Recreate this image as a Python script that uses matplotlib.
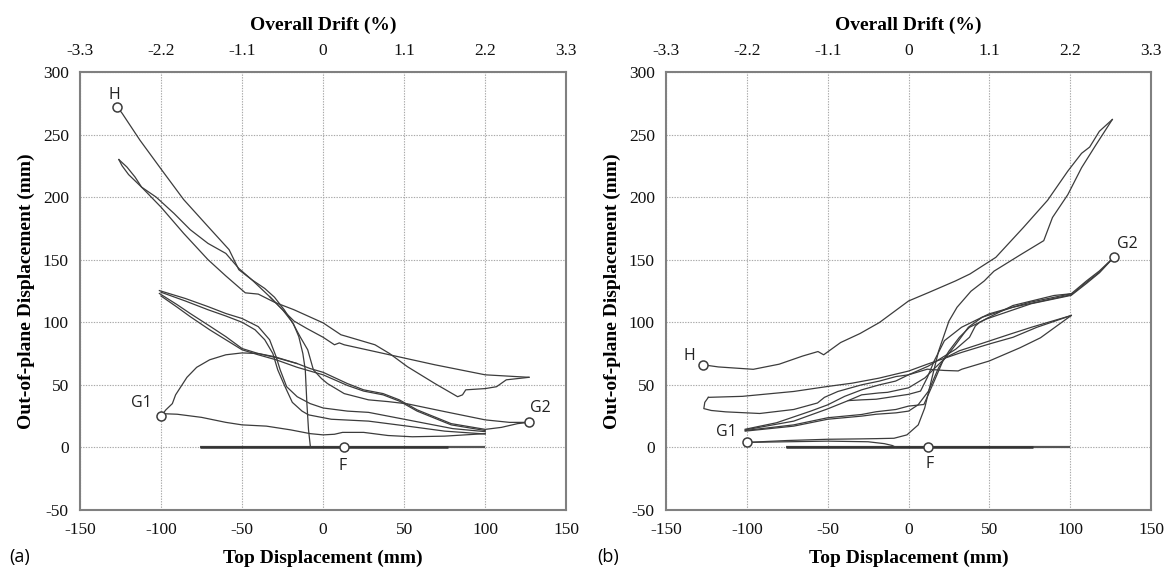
import matplotlib
matplotlib.use("Agg")
import matplotlib.pyplot as plt

# ---------------- axis data ----------------
disp_ticks = [-150, -100, -50, 0, 50, 100, 150]
disp_labels = ["-150", "-100", "-50", "0", "50", "100", "150"]
drift_labels = ["-3.3", "-2.2", "-1.1", "0", "1.1", "2.2", "3.3"]
oop_ticks = [-50, 0, 50, 100, 150, 200, 250, 300]
oop_labels = ["-50", "0", "50", "100", "150", "200", "250", "300"]

# ---------------- panel (a) strands: (top displacement mm, out-of-plane mm) ----------------
a_base_long = [(-76, 0), (100, 0)]
a_base_short = [(-76, 0), (77, 0)]
a_H = [(-127, 272), (-124, 267), (-113, 245.5), (-99.5, 221.6), (-86, 198), (-71, 176.5),
       (-58, 158), (-52, 142), (-44, 134), (-33, 120.5), (-25, 110), (-18.4, 99), (-15, 88.5),
       (-12.5, 75), (-11, 62), (-10, 35), (-9, 14), (-7.8, 0)]
a_loop_upper = [(-126, 230), (-121, 224), (-116, 216), (-112, 208), (-103, 200), (-92, 187),
                (-82, 174), (-71, 163), (-60, 155), (-52, 143), (-44, 134), (-36, 127),
                (-30, 120), (-24, 110), (-19, 100), (-14, 88), (-9.5, 78), (-6, 62), (-1, 55),
                (2.7, 51), (13, 43), (28, 38), (40, 36.6), (52, 34.8), (75, 28.6), (100, 22),
                (115, 20), (127, 20)]
a_loop_lower = [(-126, 230), (-124, 225), (-120, 218), (-112, 208), (-100, 192), (-86, 171),
                (-71, 150), (-60, 137), (-52, 128), (-48, 123.5), (-40, 122.5), (-30, 116),
                (-18, 110), (0, 99.5), (11, 90), (15, 88.5), (32, 82), (41, 75), (52, 64.5),
                (69, 51), (83, 40.5), (86, 42), (88, 46), (100, 47), (107, 48.5), (113, 54),
                (127, 56)]
a_return = [(127, 56), (100, 58), (69, 66), (41, 74), (20, 80), (13, 82), (10, 83.5), (7, 82),
            (0, 88), (-10, 95), (-18, 101), (-25, 110), (-33, 120.5)]
a_bundle_1 = [(-101, 125.3), (-85, 119), (-71, 112.5), (-60, 107), (-50, 103), (-40, 96.5),
              (-33, 86), (-29, 72.5), (-26.5, 62), (-22.5, 48.5), (-16, 40.5), (-8, 35),
              (0, 31.5), (15, 29), (28, 28), (52, 22), (80, 15), (100, 12.6)]
a_bundle_2 = [(-100, 124), (-85, 117), (-71, 110), (-60, 105), (-50, 100), (-42, 94), (-36, 86),
              (-31, 75), (-28, 62), (-24, 50), (-19, 36), (-13, 29), (-9, 26), (5, 22.5),
              (28, 21), (52, 17), (75, 13), (100, 10.7)]
a_bundle_3 = [(-101, 123), (-90, 114), (-82, 107), (-70, 97), (-60, 88.5), (-50, 79), (-40, 75),
              (-29, 71.7), (-16, 67), (-8, 63), (0, 60), (15, 51), (25, 46), (37, 43), (47, 38),
              (58, 30), (79, 19), (100, 14.4), (110, 16), (120, 19), (127, 20)]
a_bundle_4 = [(-100, 121), (-90, 112), (-82, 104.5), (-70, 94), (-60, 86), (-50, 78), (-40, 74),
              (-29, 70), (-16, 64), (0, 58), (15, 49.5), (25, 45), (37, 42), (47, 37), (58, 29),
              (79, 18), (100, 13.5)]
a_hump = [(-100, 25), (-97, 30), (-93, 35), (-91, 42), (-88, 48), (-84, 56), (-78, 64), (-70, 70),
          (-60, 74), (-50, 75.5), (-40, 75), (-30, 72.5), (-16, 67)]
a_G1_low = [(-100, 27), (-90, 26.5), (-75, 24), (-60, 20), (-50, 18), (-35, 17), (-20, 14),
            (-8, 11), (0, 10), (7, 10.5), (12, 12), (25, 12), (40, 9.5), (55, 8.5), (75, 9),
            (100, 11)]
a_strands = [a_H, a_loop_upper, a_loop_lower, a_return, a_bundle_1, a_bundle_2, a_bundle_3,
             a_bundle_4, a_hump, a_G1_low]
a_point_names = ["H", "G1", "G2", "F"]
a_point_x = [-127, -100, 127, 13]
a_point_y = [272, 25, 20, 0]

# ---------------- panel (b) strands ----------------
b_base_long = [(-76, 0), (100, 0)]
b_base_short = [(-76, 0), (77, 0)]
b_G1_a = [(-7.8, 0), (-10, 1.5), (-15, 3), (-25, 4.5), (-50, 5), (-75, 4.5), (-100, 4)]
b_G1_b = [(-100, 4), (-75, 5.5), (-50, 6.5), (-30, 6.8), (-20, 7), (-9, 7.3), (-1, 10), (6, 18),
          (10, 31.5), (14, 53), (18.6, 77), (25, 101), (30, 112), (38.6, 124.8), (46.8, 133),
          (52.8, 140.8), (69.3, 154), (83.6, 165.2), (89, 183.7), (98.5, 202), (107, 223.5),
          (116, 242), (126, 262)]
b_H = [(-127, 66), (-117.6, 64.3), (-96, 62.4), (-80, 66.5), (-65.5, 73), (-56, 76.6),
       (-52.5, 74), (-42, 83.8), (-30, 91), (-18, 99.8), (0, 117), (12.5, 123.8), (29, 133),
       (38, 138.6), (54, 151.9), (71, 175.7), (86, 197.5), (98.5, 220.8), (107, 235),
       (109.5, 237.5), (112, 240), (118, 252.6), (126, 262)]
b_loop_upper = [(-123.8, 40), (-102.7, 40.8), (-71, 44.7), (-50, 48.7), (-35, 51.3),
                (-18.4, 55.3), (0, 61), (11.6, 66.5), (32.8, 75.9), (49.8, 82.6), (64.6, 88),
                (79.4, 96), (100.6, 105.4)]
b_loop_lower = [(-123.8, 40), (-126, 36), (-126.6, 31), (-122, 29.5), (-113, 28.4), (-92, 27.1),
                (-71, 30.3), (-56.3, 35.5), (-52, 40), (-43.7, 44.7), (-29, 50), (-18, 53),
                (-7.8, 56.6), (0, 58), (11.6, 62.5), (22, 61.5), (30.7, 61.1), (33, 62.5),
                (49.8, 69), (68.9, 79.6), (81.6, 87.6), (100.6, 105.4)]
b_bundle_1 = [(-101, 14.5), (-81.6, 19.7), (-60.5, 29), (-50, 34), (-39.5, 40.8), (-29, 46),
              (-18, 50), (-8, 53), (0, 58), (12.3, 65), (20.8, 71.8), (29.2, 78.5), (37.7, 88),
              (41.3, 97), (44, 100), (49.8, 104), (64.6, 113.4), (90, 121.4), (100.6, 122.8),
              (110, 133), (118, 141), (127, 152)]
b_bundle_2 = [(-101, 14), (-71, 21), (-50, 30.8), (-37.3, 37.4), (-29, 42), (-18.4, 43.5),
              (-13, 44), (0, 47.6), (10.2, 55.6), (16.5, 63.7), (23, 71.8), (31.4, 77.2),
              (44, 82.5), (63, 90.6), (76, 96), (100.6, 105.4)]
b_bundle_3 = [(-101, 13.5), (-71, 18), (-50, 23.7), (-29, 26.3), (-20, 28.5), (-7.8, 30.3),
              (0, 33), (9.5, 34.3), (15.9, 53), (21.2, 69), (28.6, 81.2), (37, 96), (45.5, 104),
              (64.6, 112), (100.6, 122), (110, 132), (118, 140), (127, 152)]
b_bundle_4 = [(-101, 13), (-71, 17), (-50, 22.5), (-29, 25), (-20, 26.5), (-7.8, 27.6), (0, 29),
              (5.9, 34), (12.3, 44.9), (18.6, 63.7), (25, 77), (31.4, 87.9), (37.7, 96),
              (48.3, 102.7), (75.8, 114.8), (100.6, 121.5), (110, 131), (118, 139.5), (127, 152)]
b_S_curve = [(-37.3, 37.4), (-29, 38), (-20, 38.5), (0, 42.4), (7.4, 45), (11.6, 55.8),
             (15.9, 69.2), (22.2, 85.3), (32.8, 96), (43.4, 102.7), (49.8, 106.7), (75.2, 116),
             (100.6, 122.8)]
b_strands = [b_G1_a, b_G1_b, b_H, b_loop_upper, b_loop_lower, b_bundle_1, b_bundle_2,
             b_bundle_3, b_bundle_4, b_S_curve]
b_point_names = ["H", "G1", "G2", "F"]
b_point_x = [-127, -100, 127, 12]
b_point_y = [66, 4, 152, 0]

# ---------------- styling ----------------
LINE_C = "#3c3c3c"
SERIF = ["Liberation Serif", "DejaVu Serif"]
SANS = ["Open Sans", "DejaVu Sans"]
plt.rcParams["font.family"] = SERIF
plt.rcParams["axes.unicode_minus"] = False

fig = plt.figure(figsize=(11.69, 5.73), dpi=100)
ax_a = fig.add_axes([0.0684, 0.110, 0.416, 0.7644])
ax_b = fig.add_axes([0.5697, 0.110, 0.415, 0.7644])

a_offsets = {"H": (-3, 12), "G1": (-20, 13), "G2": (11, 14), "F": (-2, -19)}
b_offsets = {"H": (-14, 9), "G1": (-20, 10), "G2": (13, 13), "F": (2, -17)}


def draw_panel(ax, strands, base_long, base_short, names, px, py, offsets):
    ax.set_xlim(-150, 150)
    ax.set_ylim(-50, 300)
    ax.set_xticks(disp_ticks, labels=disp_labels)
    ax.set_yticks(oop_ticks, labels=oop_labels)
    ax.grid(True, linestyle=(0, (1.2, 1.2)), color="#a8a8a8", linewidth=0.8)
    ax.set_axisbelow(True)
    for s in ax.spines.values():
        s.set_color("#808080")
        s.set_linewidth(1.5)
    ax.tick_params(axis="both", length=0, pad=9, labelsize=12.5, labelcolor="#111111")
    ax.tick_params(axis="y", pad=8)

    ax.plot([p[0] for p in base_long], [p[1] for p in base_long], color="#555555", lw=1.6,
            solid_capstyle="butt")
    ax.plot([p[0] for p in base_short], [p[1] for p in base_short], color="#333333", lw=1.8,
            solid_capstyle="butt")
    for st in strands:
        ax.plot([p[0] for p in st], [p[1] for p in st], color=LINE_C, lw=0.9)

    ax.plot(px, py, linestyle="none", marker="o", markersize=6.5, markerfacecolor="white",
            markeredgecolor="#3c3c3c", markeredgewidth=1.1, zorder=5)
    for n, x, y in zip(names, px, py):
        ax.annotate(n, (x, y), xytext=offsets[n], textcoords="offset pixels",
                    ha="center", va="center", fontsize=11.5, family=SANS, color="#222222")

    sec = ax.secondary_xaxis("top")
    sec.set_xticks(disp_ticks, labels=drift_labels)
    sec.tick_params(length=0, pad=9, labelsize=12.5, labelcolor="#111111")
    sec.spines["top"].set_visible(False)
    sec.set_xlabel("Overall Drift (%)", fontweight="bold", fontsize=14, labelpad=10)
    ax.set_xlabel("Top Displacement (mm)", fontweight="bold", fontsize=14, labelpad=8)
    ax.set_ylabel("Out-of-plane Displacement (mm)", fontweight="bold", fontsize=14,
                  labelpad=6)


draw_panel(ax_a, a_strands, a_base_long, a_base_short, a_point_names, a_point_x, a_point_y,
           a_offsets)
draw_panel(ax_b, b_strands, b_base_long, b_base_short, b_point_names, b_point_x, b_point_y,
           b_offsets)

fig.text(0.008, 0.028, "(a)", family=SANS, fontsize=13, ha="left", va="center")
fig.text(0.511, 0.028, "(b)", family=SANS, fontsize=13, ha="left", va="center")

fig.savefig("out.png", dpi=100)
